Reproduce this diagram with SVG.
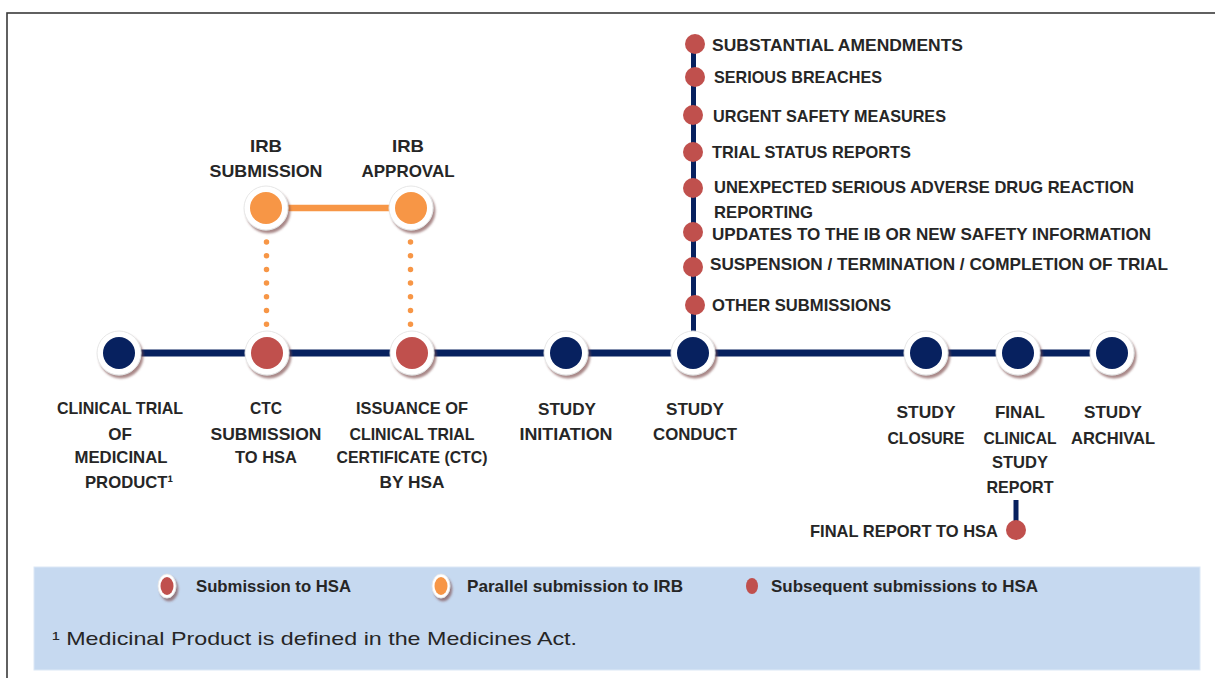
<svg xmlns="http://www.w3.org/2000/svg" width="1215" height="678" viewBox="0 0 1215 678">
<defs>
<filter id="sh" x="-50%" y="-50%" width="200%" height="200%">
<feDropShadow dx="2" dy="3" stdDeviation="1.3" flood-color="#7a4a4a" flood-opacity="0.65"/>
</filter>
<style>
.lbl{font-family:"Liberation Sans",Arial,sans-serif;font-weight:bold;font-size:17px;fill:#262626;}
.mid{text-anchor:middle;}
.leg{font-family:"Liberation Sans",Arial,sans-serif;font-weight:bold;font-size:16.5px;fill:#262626;}
.foot{font-family:"Liberation Sans",Arial,sans-serif;font-size:19px;fill:#262626;}
.ring{fill:#ffffff;stroke:#e6e6e6;stroke-width:1;filter:url(#sh);}
.navy{fill:#07215f;}
.red{fill:#c0504d;}
.orange{fill:#f79646;}
.dot{fill:#c0504d;}
</style>
</defs>
<rect width="1215" height="678" fill="#ffffff"/>
<rect x="7" y="13" width="1230" height="690" fill="none" stroke="#3a3a3a" stroke-width="1.6"/>

<g id="connectors">
<line x1="119" y1="353" x2="1112" y2="353" stroke="#07215f" stroke-width="7"/>
<line x1="693.5" y1="43" x2="693.5" y2="353" stroke="#07215f" stroke-width="5"/>
<line x1="1016" y1="500" x2="1016" y2="530" stroke="#07215f" stroke-width="5"/>
<line x1="266" y1="208" x2="411" y2="208" stroke="#f79646" stroke-width="6.5"/>
<line x1="266.5" y1="242" x2="266.5" y2="328" stroke="#f79646" stroke-width="5.5" stroke-linecap="round" stroke-dasharray="0 13.7"/>
<line x1="410.5" y1="242" x2="410.5" y2="328" stroke="#f79646" stroke-width="5.5" stroke-linecap="round" stroke-dasharray="0 13.7"/>
</g>

<g id="node-ctm">
<circle class="ring" cx="119" cy="353" r="22"/><circle class="navy" cx="119" cy="353" r="16"/>
<text class="lbl mid" x="120" y="414" textLength="126" lengthAdjust="spacingAndGlyphs">CLINICAL TRIAL</text>
<text class="lbl mid" x="120" y="440">OF</text>
<text class="lbl mid" x="121" y="463" textLength="93" lengthAdjust="spacingAndGlyphs">MEDICINAL</text>
<text class="lbl mid" x="129" y="488" textLength="88" lengthAdjust="spacingAndGlyphs">PRODUCT¹</text>
</g>

<g id="node-ctc-sub">
<circle class="ring" cx="267" cy="353" r="22"/><circle class="red" cx="267" cy="353" r="16"/>
<text class="lbl mid" x="266" y="414" textLength="32" lengthAdjust="spacingAndGlyphs">CTC</text>
<text class="lbl mid" x="266" y="440" textLength="111" lengthAdjust="spacingAndGlyphs">SUBMISSION</text>
<text class="lbl mid" x="266" y="463" textLength="62" lengthAdjust="spacingAndGlyphs">TO HSA</text>
</g>

<g id="node-ctc-issue">
<circle class="ring" cx="412" cy="353" r="22"/><circle class="red" cx="412" cy="353" r="16"/>
<text class="lbl mid" x="412" y="414" textLength="112" lengthAdjust="spacingAndGlyphs">ISSUANCE OF</text>
<text class="lbl mid" x="412" y="440" textLength="125" lengthAdjust="spacingAndGlyphs">CLINICAL TRIAL</text>
<text class="lbl mid" x="412" y="463" textLength="151" lengthAdjust="spacingAndGlyphs">CERTIFICATE (CTC)</text>
<text class="lbl mid" x="412" y="488" textLength="65" lengthAdjust="spacingAndGlyphs">BY HSA</text>
</g>

<g id="node-irb-sub">
<circle class="ring" cx="266" cy="208" r="22"/><circle class="orange" cx="266" cy="208" r="16"/>
<text class="lbl mid" x="266" y="152" textLength="32" lengthAdjust="spacingAndGlyphs">IRB</text>
<text class="lbl mid" x="266" y="177" textLength="113" lengthAdjust="spacingAndGlyphs">SUBMISSION</text>
</g>

<g id="node-irb-app">
<circle class="ring" cx="411" cy="208" r="22"/><circle class="orange" cx="411" cy="208" r="16"/>
<text class="lbl mid" x="408" y="152" textLength="32" lengthAdjust="spacingAndGlyphs">IRB</text>
<text class="lbl mid" x="408" y="177" textLength="93" lengthAdjust="spacingAndGlyphs">APPROVAL</text>
</g>

<g id="node-initiation">
<circle class="ring" cx="566" cy="353" r="22"/><circle class="navy" cx="566" cy="353" r="16"/>
<text class="lbl mid" x="567" y="415" textLength="58" lengthAdjust="spacingAndGlyphs">STUDY</text>
<text class="lbl mid" x="566" y="440" textLength="93" lengthAdjust="spacingAndGlyphs">INITIATION</text>
</g>

<g id="node-conduct">
<circle class="ring" cx="693" cy="353" r="22"/><circle class="navy" cx="693" cy="353" r="16"/>
<text class="lbl mid" x="695" y="415" textLength="58" lengthAdjust="spacingAndGlyphs">STUDY</text>
<text class="lbl mid" x="695" y="440" textLength="84" lengthAdjust="spacingAndGlyphs">CONDUCT</text>
</g>

<g id="node-closure">
<circle class="ring" cx="926" cy="353" r="22"/><circle class="navy" cx="926" cy="353" r="16"/>
<text class="lbl mid" x="926" y="418" textLength="59" lengthAdjust="spacingAndGlyphs">STUDY</text>
<text class="lbl mid" x="926" y="444" textLength="77" lengthAdjust="spacingAndGlyphs">CLOSURE</text>
</g>

<g id="node-final">
<circle class="ring" cx="1018" cy="353" r="22"/><circle class="navy" cx="1018" cy="353" r="16"/>
<text class="lbl mid" x="1020" y="418" textLength="50" lengthAdjust="spacingAndGlyphs">FINAL</text>
<text class="lbl mid" x="1020" y="444" textLength="73" lengthAdjust="spacingAndGlyphs">CLINICAL</text>
<text class="lbl mid" x="1020" y="468" textLength="56" lengthAdjust="spacingAndGlyphs">STUDY</text>
<text class="lbl mid" x="1020" y="493" textLength="67" lengthAdjust="spacingAndGlyphs">REPORT</text>
</g>

<g id="node-archival">
<circle class="ring" cx="1112" cy="353" r="22"/><circle class="navy" cx="1112" cy="353" r="16"/>
<text class="lbl mid" x="1113" y="418" textLength="58" lengthAdjust="spacingAndGlyphs">STUDY</text>
<text class="lbl mid" x="1113" y="444" textLength="84" lengthAdjust="spacingAndGlyphs">ARCHIVAL</text>
</g>

<g id="node-final-report">
<circle class="dot" cx="1016" cy="530" r="10"/>
<text class="lbl" x="998" y="537" text-anchor="end" textLength="188" lengthAdjust="spacingAndGlyphs">FINAL REPORT TO HSA</text>
</g>

<g id="sub-amend"><circle class="dot" cx="695" cy="44" r="10"/><text class="lbl" x="712" y="51" textLength="251" lengthAdjust="spacingAndGlyphs">SUBSTANTIAL AMENDMENTS</text></g>
<g id="sub-breach"><circle class="dot" cx="695" cy="77" r="10"/><text class="lbl" x="714" y="83" textLength="168" lengthAdjust="spacingAndGlyphs">SERIOUS BREACHES</text></g>
<g id="sub-urgent"><circle class="dot" cx="693" cy="115" r="10"/><text class="lbl" x="713" y="122" textLength="233" lengthAdjust="spacingAndGlyphs">URGENT SAFETY MEASURES</text></g>
<g id="sub-status"><circle class="dot" cx="693" cy="152" r="10"/><text class="lbl" x="712" y="158" textLength="199" lengthAdjust="spacingAndGlyphs">TRIAL STATUS REPORTS</text></g>
<g id="sub-susar"><circle class="dot" cx="693" cy="188" r="10"/><text class="lbl" x="714" y="193" textLength="420" lengthAdjust="spacingAndGlyphs">UNEXPECTED SERIOUS ADVERSE DRUG REACTION</text><text class="lbl" x="714" y="218" textLength="99" lengthAdjust="spacingAndGlyphs">REPORTING</text></g>
<g id="sub-ib"><circle class="dot" cx="693" cy="232" r="10"/><text class="lbl" x="712" y="240" textLength="439" lengthAdjust="spacingAndGlyphs">UPDATES TO THE IB OR NEW SAFETY INFORMATION</text></g>
<g id="sub-susp"><circle class="dot" cx="693" cy="267" r="10"/><text class="lbl" x="710" y="270" textLength="458" lengthAdjust="spacingAndGlyphs">SUSPENSION / TERMINATION / COMPLETION OF TRIAL</text></g>
<g id="sub-other"><circle class="dot" cx="695" cy="305" r="10"/><text class="lbl" x="712" y="311" textLength="179" lengthAdjust="spacingAndGlyphs">OTHER SUBMISSIONS</text></g>

<g id="legend">
<rect x="34" y="567" width="1166" height="103" fill="#c6d9f0" stroke="#dce8f6" stroke-width="1"/>
<ellipse cx="167" cy="586" rx="9" ry="12" fill="#ffffff" stroke="#e6e6e6" stroke-width="0.8" filter="url(#sh)"/>
<ellipse cx="167" cy="586" rx="6.5" ry="9" fill="#c0504d"/>
<text class="leg" x="196" y="592" textLength="155" lengthAdjust="spacingAndGlyphs">Submission to HSA</text>
<ellipse cx="441" cy="586" rx="9" ry="12" fill="#ffffff" stroke="#e6e6e6" stroke-width="0.8" filter="url(#sh)"/>
<ellipse cx="441" cy="586" rx="6.5" ry="9" fill="#f79646"/>
<text class="leg" x="467" y="592" textLength="216" lengthAdjust="spacingAndGlyphs">Parallel submission to IRB</text>
<ellipse cx="752" cy="586" rx="6" ry="8" fill="#c0504d"/>
<text class="leg" x="771" y="592" textLength="267" lengthAdjust="spacingAndGlyphs">Subsequent submissions to HSA</text>
<text class="foot" x="52" y="645" textLength="525" lengthAdjust="spacingAndGlyphs">¹ Medicinal Product is defined in the Medicines Act.</text>
</g>
</svg>
